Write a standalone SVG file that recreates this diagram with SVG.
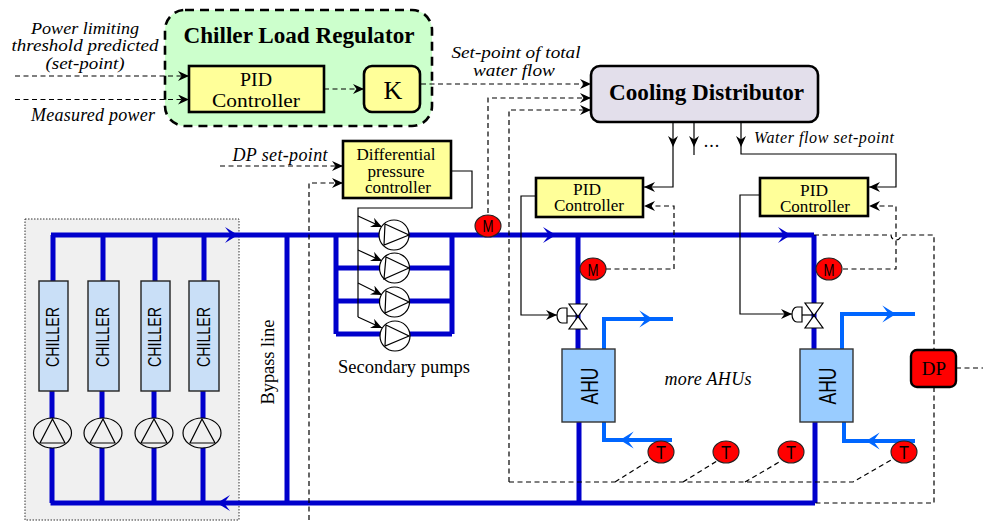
<svg xmlns="http://www.w3.org/2000/svg" width="983" height="522" viewBox="0 0 983 522">
<style>
text{font-family:"Liberation Serif","Times New Roman",serif;fill:#000;text-anchor:middle}
.i{font-style:italic;font-size:18px}
.il{font-style:italic;font-size:16.500px}
.b{font-weight:bold;font-size:24px}
.s{font-family:"Liberation Sans",Arial,sans-serif}
.m{font-size:17px}
.t{font-size:19px}
.y{fill:#ffff99;stroke:#000;stroke-width:2.6}
.ch{fill:#c9dff7;stroke:#222;stroke-width:1.4}
.ahu{fill:#99ccff;stroke:#333;stroke-width:1.4}
.r{fill:#ff0000;stroke:#222;stroke-width:1.1}
.p{fill:#fff;stroke:#000;stroke-width:1.2}
.g{fill:#f0f0f0;stroke:#000;stroke-width:1.2}
.pn{fill:none;stroke:#000;stroke-width:1.2}
.pipe{fill:none;stroke:#0000cc;stroke-width:5}
.lb{fill:none;stroke:#0066ff;stroke-width:4}
.bh{fill:#0000cc}.lh{fill:#0066ff}
.d{fill:none;stroke:#000;stroke-width:1.2;stroke-dasharray:5 3.5}
.l{fill:none;stroke:#000;stroke-width:1.2}
.a{marker-end:url(#ah)}
</style>
<defs>
<marker id="ah" markerUnits="userSpaceOnUse" markerWidth="12" markerHeight="10" refX="11" refY="5" orient="auto"><path d="M0,0 L11,5 L0,10 L3.500,5 Z" fill="#000"/></marker>
<path id="hd" d="M0,0 L-13,-8 L-7,0 L-13,8 Z"/>
</defs>

<rect id="chiller-plant" x="25" y="219" width="214" height="301" fill="#f0f0f0" stroke="#333" stroke-width="1" stroke-dasharray="1.5 1.5"/>
<rect id="chiller-load-regulator-box" x="165" y="10" width="267" height="116" rx="20" fill="#ccffcc" stroke="#000" stroke-width="2.6" stroke-dasharray="9 6"/>

<g id="connectors">
<path class="pipe" d="M51,235H814M50.500,503H815M53,235V281M103,235V281M155,235V281M204,235V281M52,391V503M102,391V503M154,391V503M203,391V503M287,235V503M336,235V334M452,235V334M336,268H452M336,301H452M336,334H452M578,235V349M579,422V503M814,235V349M815,422V503"/>
<path class="lb" d="M604,349V319H673M604,422V440H672M842,349V314H915M844,422V441H915"/>
<use href="#hd" class="bh" x="238" y="235"/>
<use href="#hd" class="bh" transform="translate(217,503) rotate(180)"/>
<use href="#hd" class="bh" x="556" y="235"/>
<use href="#hd" class="bh" x="791" y="235"/>
<use href="#hd" class="lh" transform="translate(653,319) scale(1.05)"/>
<use href="#hd" class="lh" transform="translate(620,440) rotate(180) scale(1.05)"/>
<use href="#hd" class="lh" transform="translate(896,314) scale(1.05)"/>
<use href="#hd" class="lh" transform="translate(866,441) rotate(180) scale(1.05)"/>

<path class="d a" d="M15,76H189"/>
<path class="d a" d="M15,99.500H189"/>
<path class="d a" d="M324,89H364"/>
<path class="d a" d="M421,84H591"/>
<path class="d a" d="M488,213V98H591"/>
<path class="d a" d="M509,482V110H591"/>
<path class="d a" d="M220,166H343"/>
<path class="d a" d="M309,520V183H343"/>
<path class="d" d="M509,482H853L893,459M615,482L650,460M683,482L717,461M745,482L781,461"/>
<path class="d a" d="M606,269H674V206H644"/>
<path class="d a" d="M843,269H896V206H869"/>
<path class="d" d="M814,235H891a5,5 0 0 0 10,0H934V350M934,387V503H815"/>
<path class="d" d="M956,368H983"/>
<path class="l a" d="M673,122V147"/>
<path class="l a" d="M673,147V187H644"/>
<path class="l a" d="M694,122V147"/>
<path class="l" d="M694,147V155"/>
<path class="l a" d="M741,122V147"/>
<path class="l a" d="M741,147V154H896V187H869"/>
<path class="l" d="M451,171H472V208H358V317"/>
<path class="l a" d="M358,216L382,227"/>
<path class="l a" d="M358,250L382,261"/>
<path class="l a" d="M358,283L382,295"/>
<path class="l a" d="M358,317L382,328"/>
<path class="l a" d="M536,196H521V315H557"/>
<path class="l a" d="M760,195H740V314H792"/>
</g>

<g id="regulator-title"><text class="b" x="299" y="43" textLength="231" lengthAdjust="spacingAndGlyphs">Chiller Load Regulator</text></g>
<g id="pid-main"><rect class="y" x="189" y="66" width="135" height="46"/><text x="256" y="86" font-size="19.500" textLength="32" lengthAdjust="spacingAndGlyphs">PID</text><text x="256" y="106.500" font-size="19.500" textLength="88" lengthAdjust="spacingAndGlyphs">Controller</text></g>
<g id="gain-k"><rect class="y" x="364" y="66" width="56" height="46" rx="8"/><text x="393" y="99" font-size="26">K</text></g>
<g id="cooling-distributor"><rect x="591" y="66" width="227" height="56" rx="9" fill="#e3dfeb" stroke="#000" stroke-width="2.6"/><text class="b" x="706.500" y="100" textLength="195" lengthAdjust="spacingAndGlyphs">Cooling Distributor</text></g>
<g id="dp-controller"><rect class="y" x="343" y="141" width="108" height="57"/><text x="396" y="160" font-size="16" textLength="79" lengthAdjust="spacingAndGlyphs">Differential</text><text x="396" y="176.500" font-size="16" textLength="57" lengthAdjust="spacingAndGlyphs">pressure</text><text x="398" y="193" font-size="16" textLength="66" lengthAdjust="spacingAndGlyphs">controller</text></g>
<g id="pid-1"><rect class="y" x="536" y="178" width="107" height="39"/><text x="587" y="195" font-size="16" textLength="28" lengthAdjust="spacingAndGlyphs">PID</text><text x="589" y="211" font-size="16" textLength="70" lengthAdjust="spacingAndGlyphs">Controller</text></g>
<g id="pid-2"><rect class="y" x="760" y="178" width="108" height="38"/><text x="814" y="196" font-size="16" textLength="28" lengthAdjust="spacingAndGlyphs">PID</text><text x="815" y="212" font-size="16" textLength="70" lengthAdjust="spacingAndGlyphs">Controller</text></g>

<g id="chillers">
<g id="chiller-1"><rect class="ch" x="39" y="281" width="29" height="110"/><text class="s" transform="translate(59,337) rotate(-90)" font-size="19" textLength="60" lengthAdjust="spacingAndGlyphs">CHILLER</text></g>
<g id="chiller-2"><rect class="ch" x="88" y="281" width="31" height="110"/><text class="s" transform="translate(109,337) rotate(-90)" font-size="19" textLength="60" lengthAdjust="spacingAndGlyphs">CHILLER</text></g>
<g id="chiller-3"><rect class="ch" x="141" y="281" width="29" height="110"/><text class="s" transform="translate(161,337) rotate(-90)" font-size="19" textLength="60" lengthAdjust="spacingAndGlyphs">CHILLER</text></g>
<g id="chiller-4"><rect class="ch" x="189" y="281" width="30" height="110"/><text class="s" transform="translate(210,337) rotate(-90)" font-size="19" textLength="60" lengthAdjust="spacingAndGlyphs">CHILLER</text></g>
</g>
<g id="chiller-pumps">
<g id="cp-1"><ellipse class="g" cx="52.500" cy="433" rx="19" ry="15"/><path class="pn" d="M52.500,419L40,443H65Z"/></g>
<g id="cp-2"><ellipse class="g" cx="103" cy="433" rx="19" ry="15"/><path class="pn" d="M103,419L90,443H115Z"/></g>
<g id="cp-3"><ellipse class="g" cx="154" cy="433" rx="19" ry="15"/><path class="pn" d="M154,419L141,443H167Z"/></g>
<g id="cp-4"><ellipse class="g" cx="202" cy="433" rx="19" ry="15"/><path class="pn" d="M202,419L190,443H215Z"/></g>
</g>
<g id="secondary-pumps">
<g id="sp-1"><circle class="p" cx="394" cy="235" r="15"/><path class="pn" d="M385,224L409,235L384,245Z"/></g>
<g id="sp-2"><circle class="p" cx="394.500" cy="268" r="15"/><path class="pn" d="M386,257L409,268L384,279Z"/></g>
<g id="sp-3"><circle class="p" cx="394.500" cy="302" r="15"/><path class="pn" d="M386,291L409,302L385,313Z"/></g>
<g id="sp-4"><circle class="p" cx="395" cy="336" r="15"/><path class="pn" d="M386,325L409,336L385,346Z"/></g>
</g>
<g id="ahu-1"><rect class="ahu" x="562" y="349" width="53" height="73"/><text class="s" transform="translate(598,386) rotate(-90)" font-size="24" textLength="37" lengthAdjust="spacingAndGlyphs">AHU</text></g>
<g id="ahu-2"><rect class="ahu" x="800" y="349" width="53" height="73"/><text class="s" transform="translate(836,386) rotate(-90)" font-size="24" textLength="37" lengthAdjust="spacingAndGlyphs">AHU</text></g>
<g id="valve-1"><path class="p" d="M569,304H587L569,329H587Z"/><path class="pn" d="M567,316H578"/><path class="p" d="M567,308H562a5,7.500 0 0 0 0,15H567Z"/></g>
<g id="valve-2"><path class="p" d="M805,303H823L805,328H823Z"/><path class="pn" d="M802,315H814"/><path class="p" d="M802,307H797a5,7.500 0 0 0 0,15H802Z"/></g>
<g id="m-top"><ellipse class="r" cx="488" cy="226" rx="13" ry="11"/><text class="s m" x="488" y="232" textLength="11" lengthAdjust="spacingAndGlyphs">M</text></g>
<g id="m-1"><ellipse class="r" cx="593" cy="269" rx="13" ry="11"/><text class="s m" x="593" y="275.500" textLength="11" lengthAdjust="spacingAndGlyphs">M</text></g>
<g id="m-2"><ellipse class="r" cx="829" cy="269" rx="13" ry="11"/><text class="s m" x="829" y="275.500" textLength="11" lengthAdjust="spacingAndGlyphs">M</text></g>
<g id="t-1"><ellipse class="r" cx="661" cy="452" rx="13" ry="11"/><text class="s t" x="661" y="459" textLength="10" lengthAdjust="spacingAndGlyphs">T</text></g>
<g id="t-2"><ellipse class="r" cx="726" cy="452" rx="13" ry="11"/><text class="s t" x="726" y="459" textLength="10" lengthAdjust="spacingAndGlyphs">T</text></g>
<g id="t-3"><ellipse class="r" cx="791" cy="452" rx="13" ry="11"/><text class="s t" x="791" y="459" textLength="10" lengthAdjust="spacingAndGlyphs">T</text></g>
<g id="t-4"><ellipse class="r" cx="904" cy="452" rx="13" ry="11"/><text class="s t" x="904" y="459" textLength="10" lengthAdjust="spacingAndGlyphs">T</text></g>
<g id="dp"><rect x="911" y="350" width="45" height="37" rx="6" fill="#ff0000" stroke="#000" stroke-width="2.400"/><text x="934" y="375" font-size="19">DP</text></g>

<g id="labels">
<text class="il" x="85" y="33.500" textLength="108" lengthAdjust="spacingAndGlyphs">Power limiting</text>
<text class="il" x="85" y="51" textLength="147" lengthAdjust="spacingAndGlyphs">threshold predicted</text>
<text class="il" x="85" y="68.500" textLength="79" lengthAdjust="spacingAndGlyphs">(set-point)</text>
<text class="i" x="93" y="121" textLength="124">Measured power</text>
<text class="i" x="280" y="161" textLength="95">DP set-point</text>
<text class="il" x="516" y="58" textLength="129" lengthAdjust="spacingAndGlyphs">Set-point of total</text>
<text class="il" x="514" y="76" textLength="82" lengthAdjust="spacingAndGlyphs">water flow</text>
<text class="i" x="824" y="143" style="font-size:16px" textLength="140">Water flow set-point</text>
<text x="712" y="147" font-size="18" letter-spacing="1">...</text>
<text x="404" y="373" font-size="18.500" textLength="132">Secondary pumps</text>
<text transform="translate(274,362) rotate(-90)" font-size="18.500" textLength="85">Bypass line</text>
<text class="i" x="708" y="385" textLength="87">more AHUs</text>
</g>
</svg>
